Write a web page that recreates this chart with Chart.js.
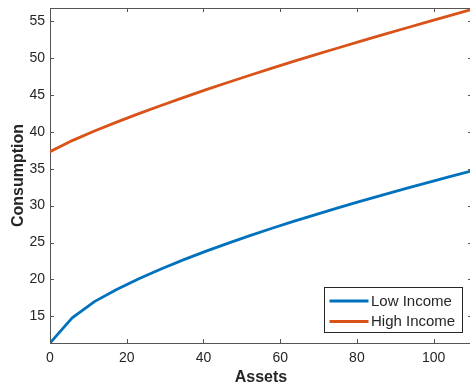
<!DOCTYPE html>
<html>
<head>
<meta charset="utf-8">
<script src="https://cdn.jsdelivr.net/npm/chart.js@4"></script>
<style>
  html, body { margin: 0; padding: 0; overflow: hidden; background: #fff; }
</style>
</head>
<body>
<canvas id="consumption" width="472" height="385"></canvas>
<script>
// values
const assets = [0, 5.79, 11.58, 17.37, 23.16, 28.95, 34.74, 40.53, 46.32, 52.11,
  57.89, 63.68, 69.47, 75.26, 81.05, 86.84, 92.63, 98.42, 104.21, 110];
const lowIncome = [11.4, 14.8, 17.0, 18.65, 20.1, 21.42, 22.65, 23.8, 24.89, 25.93,
  26.93, 27.89, 28.82, 29.72, 30.6, 31.46, 32.3, 33.12, 33.92, 34.7];
const highIncome = [37.3, 38.8, 40.1, 41.3, 42.45, 43.55, 44.62, 45.66, 46.67, 47.65,
  48.61, 49.55, 50.47, 51.37, 52.26, 53.14, 54.01, 54.87, 55.72, 56.56];
const xTicks = [0, 20, 40, 60, 80, 100];
const yTicks = [15, 20, 25, 30, 35, 40, 45, 50, 55];

const axisColor = '#555555';
const textColor = '#262626';
const fontFamily = '"Liberation Sans", Arial, Helvetica, sans-serif';

// box round the axes + inward tick marks, like matlab
const axesBox = {
  id: 'axesBox',
  afterDraw(chart) {
    const { ctx, chartArea: a, scales: { x, y } } = chart;
    const tl = 4;
    ctx.save();
    ctx.strokeStyle = axisColor;
    ctx.lineWidth = 1;
    ctx.beginPath();
    ctx.moveTo(a.left, a.top + 0.5);
    ctx.lineTo(a.right, a.top + 0.5);
    ctx.moveTo(a.right - 0.5, a.top);
    ctx.lineTo(a.right - 0.5, a.bottom);
    xTicks.forEach(v => {
      const px = Math.round(x.getPixelForValue(v)) + 0.5;
      ctx.moveTo(px, a.bottom); ctx.lineTo(px, a.bottom - tl);
      ctx.moveTo(px, a.top); ctx.lineTo(px, a.top + tl);
    });
    yTicks.forEach(v => {
      const py = Math.round(y.getPixelForValue(v)) + 0.5;
      ctx.moveTo(a.left, py); ctx.lineTo(a.left + tl, py);
      ctx.moveTo(a.right, py); ctx.lineTo(a.right - tl, py);
    });
    ctx.stroke();
    ctx.restore();
  }
};

// legend box in the lower right corner
const boxLegend = {
  id: 'boxLegend',
  afterDraw(chart) {
    const { ctx, chartArea: a } = chart;
    const left = a.right - 147.5, top = a.bottom - 55.5;
    const w = 138, h = 45;
    ctx.save();
    ctx.fillStyle = '#fff';
    ctx.fillRect(left, top, w, h);
    ctx.strokeStyle = textColor;
    ctx.lineWidth = 1;
    ctx.strokeRect(left, top, w, h);
    ctx.font = '15px ' + fontFamily;
    ctx.textBaseline = 'middle';
    chart.data.datasets.forEach((ds, i) => {
      const cy = top + 13.5 + i * 20.5;
      ctx.strokeStyle = ds.borderColor;
      ctx.lineWidth = 3;
      ctx.beginPath();
      ctx.moveTo(left + 5, cy);
      ctx.lineTo(left + 44, cy);
      ctx.stroke();
      ctx.fillStyle = textColor;
      ctx.fillText(ds.label, left + 46.5, cy + 0.5);
    });
    ctx.restore();
  }
};

new Chart(document.getElementById('consumption'), {
  type: 'line',
  data: {
    labels: assets,
    datasets: [
      {
        label: 'Low Income',
        data: assets.map((a, i) => ({ x: a, y: lowIncome[i] })),
        borderColor: '#0072BD',
        borderWidth: 2.8,
        pointRadius: 0,
        tension: 0
      },
      {
        label: 'High Income',
        data: assets.map((a, i) => ({ x: a, y: highIncome[i] })),
        borderColor: '#D95319',
        borderWidth: 2.8,
        pointRadius: 0,
        tension: 0
      }
    ]
  },
  options: {
    responsive: false,
    animation: false,
    layout: { padding: { top: 8, right: 0, bottom: 0, left: 0 } },
    plugins: {
      legend: { display: false },
      tooltip: { enabled: false }
    },
    scales: {
      x: {
        type: 'linear',
        min: 0,
        max: 110,
        afterBuildTicks: s => { s.ticks = xTicks.map(v => ({ value: v })); },
        afterFit: s => {
          s.height = 42;
          s.paddingLeft = 0; s.paddingRight = 0;
          s.paddingTop = 0; s.paddingBottom = 0;
        },
        grid: { display: false, drawTicks: false },
        border: { display: true, color: axisColor, width: 1 },
        ticks: {
          autoSkip: false,
          maxRotation: 0,
          padding: 7,
          color: textColor,
          font: { size: 14, family: fontFamily }
        },
        title: {
          display: true,
          text: 'Assets',
          color: textColor,
          padding: 0,
          font: { size: 16, weight: 'bold', family: fontFamily, lineHeight: 0.9 }
        }
      },
      y: {
        min: 11.4,
        max: 56.75,
        afterBuildTicks: s => { s.ticks = yTicks.map(v => ({ value: v })); },
        afterFit: s => {
          s.width = 50;
          s.paddingLeft = 0; s.paddingRight = 0;
          s.paddingTop = 0; s.paddingBottom = 0;
        },
        grid: { display: false, drawTicks: false },
        border: { display: true, color: axisColor, width: 1 },
        ticks: {
          autoSkip: false,
          padding: 5,
          color: textColor,
          font: { size: 14, family: fontFamily }
        },
        title: {
          display: true,
          text: 'Consumption',
          color: textColor,
          padding: { top: 11, bottom: 0 },
          font: { size: 16, weight: 'bold', family: fontFamily, lineHeight: 0.9 }
        }
      }
    }
  },
  plugins: [axesBox, boxLegend]
});
</script>
</body>
</html>
